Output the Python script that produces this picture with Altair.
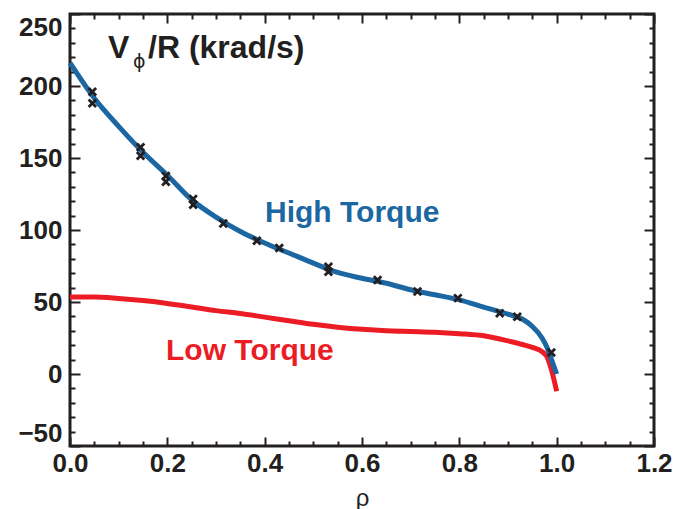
import altair as alt
import pandas as pd

# ---- data ----
rho_curve = [0.0, 0.05, 0.1, 0.15, 0.2, 0.25, 0.3, 0.35, 0.4, 0.45, 0.5, 0.55,
             0.6, 0.65, 0.7, 0.75, 0.8, 0.85, 0.9, 0.93, 0.95, 0.97, 0.98, 0.99, 1.0]
v_high = [216, 191.5, 172, 154, 138, 121, 109, 99, 91, 84, 77, 70.5,
          66.5, 63, 58.5, 55, 51.5, 46.5, 41.5, 38, 33, 25, 18.5, 9.5, 0]
v_low = [53.5, 53.5, 52.5, 51, 49, 46.5, 44, 42, 39.5, 37, 34.5, 32.5,
         31, 30, 29.5, 29, 28, 26.5, 23, 20.5, 18.5, 15.5, 12, 2, -12]

rho_meas = [0.046, 0.046, 0.145, 0.145, 0.197, 0.197, 0.253, 0.253, 0.315, 0.384,
            0.43, 0.531, 0.531, 0.632, 0.714, 0.797, 0.883, 0.919, 0.989]
v_meas = [196, 188, 157.5, 151.5, 137.5, 133.5, 121.5, 117.5, 104.5, 92.5,
          87.5, 74.5, 71, 65.3, 57.3, 52.7, 42.2, 39.8, 15]

series_names = ["High Torque", "Low Torque"]
y_title_parts = ["V", "ϕ", "/R (krad/s)"]
x_title = "ρ"

x_major = [0.0, 0.2, 0.4, 0.6, 0.8, 1.0, 1.2]
x_minor = [0.05, 0.1, 0.15, 0.25, 0.3, 0.35, 0.45, 0.5, 0.55, 0.65, 0.7, 0.75,
           0.85, 0.9, 0.95, 1.05, 1.1, 1.15]
y_major = [-50, 0, 50, 100, 150, 200, 250]
y_minor = [-40, -30, -20, -10, 10, 20, 30, 40, 60, 70, 80, 90, 110, 120, 130, 140,
           160, 170, 180, 190, 210, 220, 230, 240]

# ---- styling ----
DARK = "#231f20"
BLUE = "#1c67a2"
RED = "#ec1c24"
FONT = "Liberation Sans, Arial, Helvetica, sans-serif"
PHI_FONT = "DejaVu Sans, sans-serif"

xs = alt.Scale(domain=[0, 1.2], nice=False, zero=False)
ys = alt.Scale(domain=[-50, 250], nice=False, zero=False)


def ax(orient, values, size, **kw):
    opts = dict(orient=orient, values=values, tickSize=size, offset=-size,
                domain=False, grid=False, ticks=True, tickColor=DARK, tickWidth=2)
    opts.update(kw)
    if "labels" not in kw:
        opts["labels"] = False
    if "title" not in kw:
        opts["title"] = None
    return alt.Axis(**opts)


label_style = dict(labels=True, labelFont=FONT, labelFontSize=26, labelFontWeight="bold",
                   labelColor=DARK, labelOverlap=False)

df_curve = pd.DataFrame({"rho": rho_curve, "high": v_high, "low": v_low})
df_meas = pd.DataFrame({"rho": rho_meas, "v": v_meas})

low = alt.Chart(df_curve).mark_line(color=RED, strokeWidth=5, interpolate="monotone").encode(
    x=alt.X("rho:Q", scale=xs,
            axis=ax("bottom", x_major, 9, format=".1f", labelPadding=4, labelFlush=False,
                    **label_style,
                    title=x_title, titleFont=FONT, titleFontSize=24, titleFontWeight="normal",
                    titleColor=DARK, titleBaseline="alphabetic", titleY=68)),
    y=alt.Y("low:Q", scale=ys,
            axis=ax("left", y_major, 10, labelPadding=8, labelFlush=True, **label_style)),
)

high = alt.Chart(df_curve).mark_line(color=BLUE, strokeWidth=5, interpolate="monotone").encode(
    x=alt.X("rho:Q", scale=xs, axis=ax("bottom", x_minor, 5)),
    y=alt.Y("high:Q", scale=ys, axis=ax("left", y_minor, 5)),
)

pts_a = alt.Chart(df_meas).mark_point(shape="M-1,-1L1,1", filled=False, size=56,
                                      strokeWidth=2.8, color=DARK, opacity=1).encode(
    x=alt.X("rho:Q", scale=xs, axis=ax("top", x_major, 9)),
    y=alt.Y("v:Q", scale=ys, axis=ax("right", y_major, 10)),
)

pts_b = alt.Chart(df_meas).mark_point(shape="M-1,1L1,-1", filled=False, size=56,
                                      strokeWidth=2.8, color=DARK, opacity=1).encode(
    x=alt.X("rho:Q", scale=xs, axis=ax("top", x_minor, 5)),
    y=alt.Y("v:Q", scale=ys, axis=ax("right", y_minor, 5)),
)


def label(text, x, y, size, weight, color, font):
    return alt.Chart(pd.DataFrame({"t": [text]})).mark_text(
        align="left", baseline="alphabetic", font=font, fontSize=size,
        fontWeight=weight, color=color,
    ).encode(x=alt.value(x), y=alt.value(y), text="t:N")


t_v = label(y_title_parts[0], 38, 44, 32, "bold", DARK, FONT)
t_phi = label(y_title_parts[1], 63, 54, 19, "normal", DARK, PHI_FONT)
t_rest = label(y_title_parts[2], 78, 44, 32, "bold", DARK, FONT)
t_high = label(series_names[0], 195, 208, 30, "bold", BLUE, FONT)
t_low = label(series_names[1], 96, 346, 30, "bold", RED, FONT)

chart = alt.layer(low, high, pts_a, pts_b, t_v, t_phi, t_rest, t_high, t_low).resolve_axis(
    x="independent", y="independent"
).properties(
    width=584, height=432,
    autosize=alt.AutoSizeParams(type="none"),
    padding={"left": 70, "top": 14, "right": 19, "bottom": 63},
    background="white",
).configure_view(stroke=DARK, strokeWidth=3)

chart.save("out.html", embed_options={"renderer": "svg", "actions": False})
